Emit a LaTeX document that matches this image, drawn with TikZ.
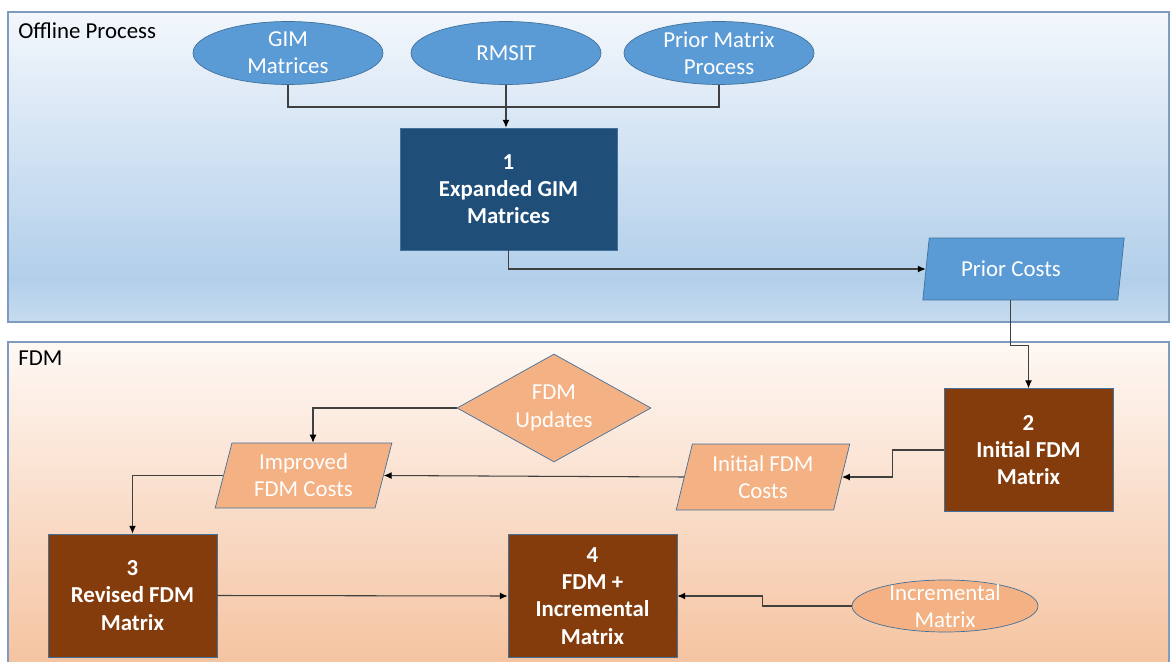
\documentclass[tikz,border=0pt]{standalone}
\usepackage{fontspec}
\setmainfont{Carlito}
\usetikzlibrary{positioning}
\usetikzlibrary{shapes.geometric}
\usetikzlibrary{arrows.meta}
\pgfdeclarelayer{background}
\pgfdeclarelayer{foreground}
\pgfsetlayers{background,main,foreground}

\definecolor{panelline}{HTML}{7F9CC0}
\definecolor{shapeline}{HTML}{41719C}
\definecolor{ovalblue}{HTML}{5B9BD5}
\definecolor{navybox}{HTML}{1F4E79}
\definecolor{brownbox}{HTML}{843C0C}
\definecolor{peach}{HTML}{F4B183}
\definecolor{linegray}{HTML}{404040}
\definecolor{offlineA}{HTML}{F3F7FC}
\definecolor{offlineB}{HTML}{B2CFEA}
\definecolor{offlineC}{HTML}{C6DBEF}
\definecolor{fdmA}{HTML}{FEF8F4}
\definecolor{fdmB}{HTML}{F5C3A0}

\pgfdeclareverticalshading{offlinefill}{100bp}{color(0bp)=(offlineC); color(25bp)=(offlineC); color(32bp)=(offlineB); color(75bp)=(offlineA); color(100bp)=(offlineA)}
\pgfdeclareverticalshading{fdmfill}{100bp}{color(0bp)=(fdmB); color(25bp)=(fdmB); color(75bp)=(fdmA); color(100bp)=(fdmA)}

\begin{document}
\begin{tikzpicture}[x=0.02cm, y=-0.02cm,
					every node/.style={font=\fontsize{13}{15.5}\selectfont},
					panel/.style={draw=panelline, line width=0.8pt},
					paneltitle/.style={anchor=west, inner sep=0pt},
					oval/.style={ellipse, draw=shapeline, fill=ovalblue, minimum width=3.8cm, minimum height=1.26cm},
					ovaltext/.style={text=white, align=center, inner sep=0pt},
					stepbox/.style={rectangle, draw=shapeline, fill=brownbox, text=white, font=\fontsize{13}{15.5}\selectfont\bfseries, align=center, minimum width=3.38cm, minimum height=2.46cm},
					datanode/.style={trapezium, trapezium left angle=75, trapezium right angle=105, trapezium stretches=true, draw=shapeline, text=white, align=center, inner sep=0pt},
					conn/.style={draw=linegray, line width=0.6pt, >={Latex[length=4.5pt,width=4pt,color=black]}},
					]
					\useasboundingbox (0,0) rectangle (1170,662);

					\begin{pgfonlayer}{background}
					%Panels
					\path[panel, shading=offlinefill] (8,12) rectangle (1169,322);
					\path[panel, shading=fdmfill] (8,342) rectangle (1169,666);
					\end{pgfonlayer}
					\node[paneltitle] (offline) at (18,31) {Offline Process};
					\node[paneltitle] (fdm) at (18,358) {FDM};

					%Nodes
					\node[oval]                 (gim)       at (288,53)      {};
					\node[ovaltext]             (gimtext)   at (gim)         {GIM\\Matrices};
					\node[oval]                 (rmsit)     at (506,53)      {};
					\node[ovaltext]             (rmsittext) at (rmsit)       {RMSIT};
					\node[oval]                 (pmp)       at (719,53)      {};
					\node[ovaltext]             (pmptext)   at (pmp)         {Prior Matrix\\Process};
					\coordinate                 (merge)     at (506,107);
					\node[stepbox, fill=navybox, minimum width=4.34cm, minimum height=2.44cm] (s1) at (508.5,189) {1\\Expanded GIM\\Matrices};
					\node[datanode, fill=ovalblue, minimum width=4.06cm, minimum height=1.24cm] (prior) at (1023.5,269) {Prior Costs\hspace*{0.5cm}};
					\node[stepbox]              (s2)        at (1028.5,450)  {2\\Initial FDM\\Matrix};
					\node[datanode, fill=peach, minimum width=3.48cm, minimum height=1.32cm] (initcost) at (763,477) {Initial FDM\\Costs};
					\node[diamond, draw=shapeline, fill=peach, minimum width=3.88cm, minimum height=2.16cm] (updates) at (554,408) {};
					\node[ovaltext]             (updtext)   at (updates)     {FDM\\Updates};
					\node[datanode, fill=peach, minimum width=3.54cm, minimum height=1.3cm] (impcost) at (303.5,475.5) {Improved\\FDM Costs};
					\node[stepbox]              (s3)        at (132.5,595.5) {3\\Revised FDM\\Matrix};
					\node[stepbox]              (s4)        at (592.5,596)   {4\\FDM +\\Incremental\\Matrix};
					\node[oval, fill=peach, minimum width=3.72cm, minimum height=1.04cm] (incr) at (945,606) {};
					\node[ovaltext]             (incrtext)  at (incr)        {Incremental\\Matrix};

					%Lines
					\draw[conn] (gim.south) |- (merge);
					\draw[conn] (pmp.south) |- (merge);
					\draw[conn,->] (rmsit.south) -- (rmsit.south |- s1.north);
					\draw[conn,->] (s1.south) |- (prior.west);
					\draw[conn,->] ([xshift=-0.27cm]prior.south) -- ++(0,45) -| (s2.north);
					\draw[conn,->] (s2.west) -- ++(-51,0) |- (initcost.east);
					\draw[conn,->] (initcost.west) -- (impcost.east);
					\draw[conn,->] (updates.west) -| ([xshift=0.19cm]impcost.north);
					\draw[conn,->] (impcost.west) -| (s3.north);
					\draw[conn,->] (s3.east) -- (s4.west);
					\draw[conn,->] (incr.west) -- ++(-89,0) |- (s4.east);
				\end{tikzpicture}
\end{document}
